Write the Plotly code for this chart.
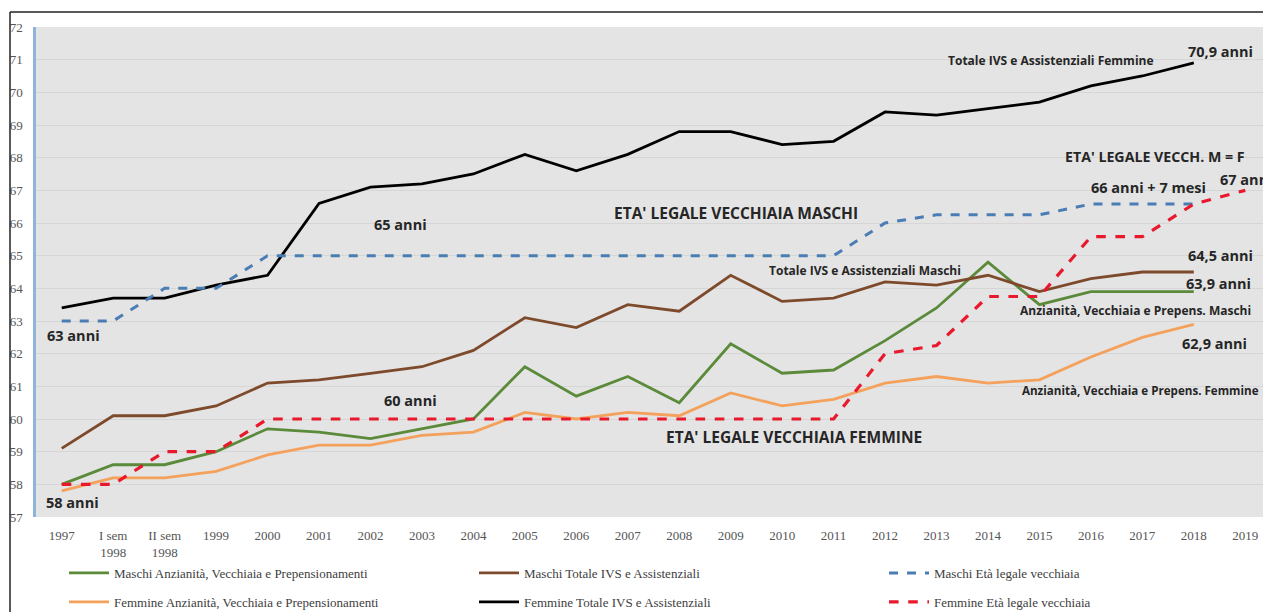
import plotly.graph_objects as go

categories = ["1997", "I sem<br>1998", "II sem<br>1998", "1999", "2000", "2001", "2002", "2003",
              "2004", "2005", "2006", "2007", "2008", "2009", "2010", "2011", "2012", "2013",
              "2014", "2015", "2016", "2017", "2018", "2019"]

maschi_anz = [58.0, 58.6, 58.6, 59.0, 59.7, 59.6, 59.4, 59.7, 60.0, 61.6, 60.7, 61.3, 60.5, 62.3,
              61.4, 61.5, 62.4, 63.4, 64.8, 63.5, 63.9, 63.9, 63.9, None]
maschi_tot = [59.1, 60.1, 60.1, 60.4, 61.1, 61.2, 61.4, 61.6, 62.1, 63.1, 62.8, 63.5, 63.3, 64.4,
              63.6, 63.7, 64.2, 64.1, 64.4, 63.9, 64.3, 64.5, 64.5, None]
maschi_leg = [63, 63, 64, 64, 65, 65, 65, 65, 65, 65, 65, 65, 65, 65, 65, 65, 66, 66.25, 66.25,
              66.25, 66.58, 66.58, 66.58, None]
femm_anz = [57.8, 58.2, 58.2, 58.4, 58.9, 59.2, 59.2, 59.5, 59.6, 60.2, 60.0, 60.2, 60.1, 60.8,
            60.4, 60.6, 61.1, 61.3, 61.1, 61.2, 61.9, 62.5, 62.9, None]
femm_tot = [63.4, 63.7, 63.7, 64.1, 64.4, 66.6, 67.1, 67.2, 67.5, 68.1, 67.6, 68.1, 68.8, 68.8,
            68.4, 68.5, 69.4, 69.3, 69.5, 69.7, 70.2, 70.5, 70.9, None]
femm_leg = [58, 58, 59, 59, 60, 60, 60, 60, 60, 60, 60, 60, 60, 60, 60, 60, 62, 62.25, 63.75,
            63.75, 65.58, 65.58, 66.58, 67]

y_ticks = list(range(57, 73))

# name, values, colour, dash, width, legend column
series = [
    ("Maschi Anzianità, Vecchiaia e Prepensionamenti", maschi_anz, "#5b8a3a", "solid", 2.8, "legend"),
    ("Femmine Anzianità, Vecchiaia e Prepensionamenti", femm_anz, "#f4a15c", "solid", 2.8, "legend"),
    ("Maschi Totale IVS e Assistenziali", maschi_tot, "#7e4a2c", "solid", 2.8, "legend2"),
    ("Femmine Totale IVS e Assistenziali", femm_tot, "#000000", "solid", 2.8, "legend2"),
    ("Maschi Età legale vecchiaia", maschi_leg, "#4a7db4", "dash", 3, "legend3"),
    ("Femmine Età legale vecchiaia", femm_leg, "#e8192c", "dash", 3.2, "legend3"),
]

fig = go.Figure()
for i, (name, vals, color, dash, w, leg) in enumerate(series):
    fig.add_trace(go.Scatter(x=categories, y=vals, name=name, mode="lines", legend=leg,
                             legendgroup="g%d" % i,
                             line=dict(color=color, width=w, dash=dash)))

W, H = 1271, 612
OFF = 8  # page body offset
L, T, B, R = 28, 19, 103, 8
PW = W - L - R
PH = H - T - B


def px(x):
    # screen pixel x -> paper coordinate
    return (x - OFF - L) / PW


def py(y):
    # screen pixel y -> paper coordinate
    return (H - B - (y - OFF)) / PH


SMALL, NUM, CAPS = 12, 14.5, 15.5
# text, screen x, screen y, size, anchor
labels = [
    ("Totale IVS e Assistenziali Femmine", 946, 60, SMALL, "left"),
    ("70,9 anni", 1186, 52, NUM, "left"),
    ("ETA' LEGALE VECCH. M = F", 1247, 157, 14.2, "right"),
    ("66 anni + 7 mesi", 1089, 187, NUM, "left"),
    ("67 anni", 1218, 180, NUM, "left"),
    ("ETA' LEGALE VECCHIAIA MASCHI", 612, 213, CAPS, "left"),
    ("65 anni", 372, 224, NUM, "left"),
    ("64,5 anni", 1186, 255, NUM, "left"),
    ("Totale IVS e Assistenziali Maschi", 767, 270, SMALL, "left"),
    ("63,9 anni", 1184, 283, NUM, "left"),
    ("Anzianità, Vecchiaia e Prepens. Maschi", 1253, 310, SMALL, "right"),
    ("63 anni", 45, 335, NUM, "left"),
    ("62,9 anni", 1180, 343, NUM, "left"),
    ("Anzianità, Vecchiaia e Prepens. Femmine", 1261, 390, 11.6, "right"),
    ("60 anni", 382, 400, NUM, "left"),
    ("ETA' LEGALE VECCHIAIA FEMMINE", 664, 437, CAPS, "left"),
    ("58 anni", 44, 502, NUM, "left"),
]
for text, x, y, size, anc in labels:
    fig.add_annotation(text="<b>" + text + "</b>", x=px(x), y=py(y), xref="paper", yref="paper",
                       xanchor=anc, yanchor="middle", showarrow=False,
                       font=dict(family="Open Sans", size=size, color="#262626"))

# outer frame (top and left)
fig.add_shape(type="line", xref="paper", yref="paper", x0=px(10), x1=px(1290), y0=py(12), y1=py(12),
              line=dict(color="#222222", width=1.5))
fig.add_shape(type="line", xref="paper", yref="paper", x0=px(10), x1=px(10), y0=py(12), y1=py(625),
              line=dict(color="#222222", width=1.5))

leg_font = dict(family="Liberation Serif", size=13, color="#404040")
leg_common = dict(orientation="v", yanchor="top", xanchor="left", tracegroupgap=9,
                  font=leg_font, bgcolor="rgba(0,0,0,0)", itemwidth=40)

fig.update_layout(
    width=W, height=H,
    margin=dict(l=L, r=R, t=T, b=B, autoexpand=False),
    paper_bgcolor="white",
    plot_bgcolor="#e4e4e4",
    showlegend=True,
    legend=dict(x=px(64), y=py(558), **leg_common),
    legend2=dict(x=px(474), y=py(558), **leg_common),
    legend3=dict(x=px(884), y=py(558), **leg_common),
    xaxis=dict(type="category", range=[-0.5, 23.5], showgrid=False, zeroline=False, showline=False,
               tickfont=dict(family="Liberation Serif", size=13, color="#555555"),
               ticks="", ticklabelstandoff=9),
    yaxis=dict(range=[57, 72], tickvals=y_ticks, showgrid=True, gridcolor="#d6d6d6", gridwidth=1,
               zeroline=False, showline=True, linecolor="#8fb4dc", linewidth=2.5,
               tickfont=dict(family="Liberation Serif", size=13, color="#555555"),
               ticks="", ticklabelstandoff=8),
)

fig.write_html("out.html")
